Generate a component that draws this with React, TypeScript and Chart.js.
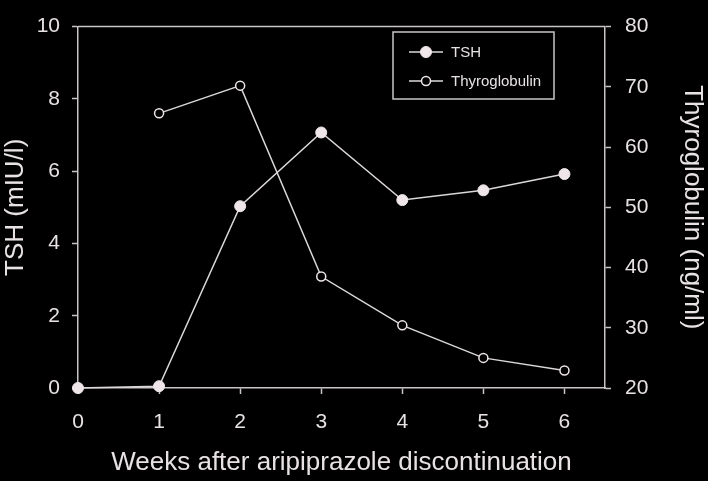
import React, { useEffect, useRef } from "react";
import { Chart, registerables } from "chart.js";

Chart.register(...registerables);

const weeks = [0, 1, 2, 3, 4, 5, 6];
const tshValues = [0, 0.05, 5.03, 7.07, 5.2, 5.47, 5.92];
const thyroWeeks = [1, 2, 3, 4, 5, 6];
const thyroValues = [65.6, 70.2, 38.5, 30.4, 25.0, 22.9];
const xTicks = [0, 1, 2, 3, 4, 5, 6];
const leftTicks = [0, 2, 4, 6, 8, 10];
const rightTicks = [20, 30, 40, 50, 60, 70, 80];

const FONT = "'Liberation Sans', Arial, Helvetica, sans-serif";
const TEXT = "#e8e2e5";
const AXIS = "#c9c5c7";
const LINE = "#dcd8da";
const MARK = "#efe6ea";

const topBorder = {
  id: "topBorder",
  afterDraw(chart: any) {
    const { ctx, chartArea } = chart;
    ctx.save();
    ctx.strokeStyle = AXIS;
    ctx.lineWidth = 1.5;
    ctx.beginPath();
    ctx.moveTo(chartArea.left, chartArea.top);
    ctx.lineTo(chartArea.right, chartArea.top);
    ctx.stroke();
    ctx.restore();
  },
};

const boxLegend = {
  id: "boxLegend",
  afterDraw(chart: any) {
    const { ctx } = chart;
    const bx = 393, by = 32, bw = 161, bh = 67;
    ctx.save();
    ctx.strokeStyle = AXIS;
    ctx.lineWidth = 1.5;
    ctx.strokeRect(bx, by, bw, bh);
    const rows = [52, 81];
    chart.data.datasets.forEach((ds: any, i: number) => {
      const y = rows[i];
      ctx.strokeStyle = ds.borderColor;
      ctx.lineWidth = 1.5;
      ctx.beginPath();
      ctx.moveTo(409, y);
      ctx.lineTo(443, y);
      ctx.stroke();
      ctx.beginPath();
      ctx.arc(426, y, ds.pointRadius, 0, Math.PI * 2);
      ctx.fillStyle = ds.pointBackgroundColor;
      ctx.fill();
      ctx.strokeStyle = ds.pointBorderColor;
      ctx.lineWidth = ds.pointBorderWidth;
      ctx.stroke();
      ctx.fillStyle = TEXT;
      ctx.font = `15px ${FONT}`;
      ctx.textBaseline = "middle";
      ctx.textAlign = "left";
      ctx.fillText(ds.label, 451, y + 1);
    });
    ctx.restore();
  },
};

export default function App() {
  const ref = useRef<HTMLCanvasElement>(null);
  useEffect(() => {
    if (!ref.current) return;
    const chart = new Chart(ref.current, {
      type: "line",
      data: {
        datasets: [
          {
            label: "TSH",
            data: weeks.map((w, i) => ({ x: w, y: tshValues[i] })),
            yAxisID: "y",
            borderColor: LINE,
            borderWidth: 1.5,
            pointRadius: 5.5,
            pointBackgroundColor: MARK,
            pointBorderColor: MARK,
            pointBorderWidth: 1,
            clip: false,
          } as any,
          {
            label: "Thyroglobulin",
            data: thyroWeeks.map((w, i) => ({ x: w, y: thyroValues[i] })),
            yAxisID: "y1",
            borderColor: LINE,
            borderWidth: 1.5,
            pointRadius: 4.5,
            pointBackgroundColor: "#000000",
            pointBorderColor: MARK,
            pointBorderWidth: 1.5,
            clip: false,
          } as any,
        ],
      },
      options: {
        responsive: false,
        animation: false,
        layout: { padding: { top: 13, left: 0, right: 0, bottom: 0 } },
        plugins: { legend: { display: false }, tooltip: { enabled: false } },
        scales: {
          x: {
            type: "linear",
            min: 0,
            max: 6.5,
            afterBuildTicks: (s: any) => {
              s.ticks = xTicks.map((v) => ({ value: v }));
            },
            afterFit: (s: any) => {
              s.height = 93;
            },
            ticks: { color: TEXT, font: { family: FONT, size: 21 }, padding: 16 },
            grid: { drawOnChartArea: false, drawTicks: true, tickLength: 6, tickColor: AXIS, tickWidth: 1.5 },
            border: { display: true, color: AXIS, width: 1.5 },
            title: {
              display: true,
              text: "Weeks after aripiprazole discontinuation",
              color: TEXT,
              font: { family: FONT, size: 26 },
              padding: { top: 0, bottom: 3 },
            },
          },
          y: {
            type: "linear",
            position: "left",
            min: 0,
            max: 10,
            afterBuildTicks: (s: any) => {
              s.ticks = leftTicks.map((v) => ({ value: v }));
            },
            afterFit: (s: any) => {
              s.width = 78;
            },
            ticks: { color: TEXT, font: { family: FONT, size: 21 }, padding: 12 },
            grid: { drawOnChartArea: false, drawTicks: true, tickLength: 6, tickColor: AXIS, tickWidth: 1.5 },
            border: { display: true, color: AXIS, width: 1.5 },
            title: {
              display: true,
              text: "TSH (mIU/l)",
              color: TEXT,
              font: { family: FONT, size: 26 },
              padding: { top: 0, bottom: 0 },
            },
          },
          y1: {
            type: "linear",
            position: "right",
            min: 20,
            max: 80,
            afterBuildTicks: (s: any) => {
              s.ticks = rightTicks.map((v) => ({ value: v }));
            },
            afterFit: (s: any) => {
              s.width = 103;
            },
            ticks: { color: TEXT, font: { family: FONT, size: 21 }, padding: 14 },
            grid: { drawOnChartArea: false, drawTicks: true, tickLength: 6, tickColor: AXIS, tickWidth: 1.5 },
            border: { display: true, color: AXIS, width: 1.5 },
            title: {
              display: true,
              text: "Thyroglobulin (ng/ml)",
              color: TEXT,
              font: { family: FONT, size: 26 },
              padding: { top: 0, bottom: 0 },
            },
          },
        },
      },
      plugins: [topBorder, boxLegend],
    });
    return () => chart.destroy();
  }, []);
  return (
    <div style={{ position: "fixed", left: 0, top: 0, width: 708, height: 481, background: "#000" }}>
      <canvas ref={ref} width={708} height={481} style={{ display: "block", background: "#000" }} />
    </div>
  );
}
